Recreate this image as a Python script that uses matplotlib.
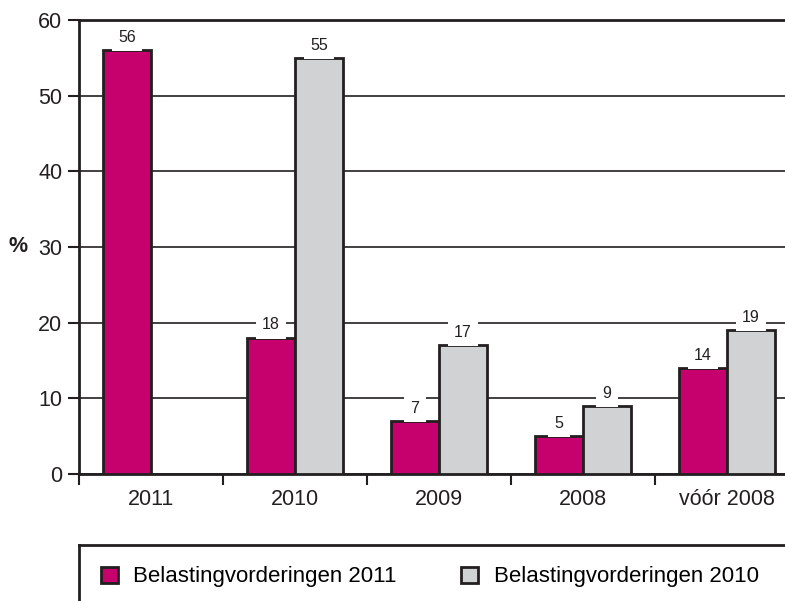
import matplotlib
matplotlib.use("Agg")
import matplotlib.pyplot as plt
import numpy as np

categories = ["2011", "2010", "2009", "2008", "vóór 2008"]
vals_2011 = [56, 18, 7, 5, 14]
vals_2010 = [np.nan, 55, 17, 9, 19]
series_names = ["Belastingvorderingen 2011", "Belastingvorderingen 2010"]

magenta = "#C6006C"
grey = "#D1D2D4"
ink = "#231F20"

plt.rcParams['font.family'] = ['Liberation Sans', 'DejaVu Sans']

fig = plt.figure(figsize=(7.85, 6.01), dpi=100)
W, H = 785, 601
ax = fig.add_axes([79 / W, (H - 474) / H, 720 / W, 454 / H])

x = np.arange(len(categories))
w = 1 / 3
b1 = ax.bar(x - w / 2, vals_2011, w, color=magenta, edgecolor=ink, linewidth=2, zorder=3, label=series_names[0])
b2 = ax.bar(x + w / 2, vals_2010, w, color=grey, edgecolor=ink, linewidth=2, zorder=3, label=series_names[1])

for bars, vals in ((b1, vals_2011), (b2, vals_2010)):
    for r, v in zip(bars, vals):
        if np.isnan(v):
            continue
        ax.annotate(f"{v:g}", (r.get_x() + r.get_width() / 2, v), xytext=(0, 6),
                    textcoords="offset points", ha="center", va="baseline",
                    fontsize=11.5, color=ink, zorder=4,
                    bbox=dict(boxstyle="square,pad=0.4", fc="white", ec="none"))

ax.set_xlim(-0.5, len(categories) - 0.5)
ax.set_ylim(0, 60)
ax.set_yticks(range(0, 61, 10))
ax.yaxis.grid(True, color=ink, linewidth=1.2)
ax.set_axisbelow(True)

ax.set_xticks(x)
ax.set_xticklabels(categories)
ax.set_xticks(np.arange(-0.5, len(categories), 1), minor=True)
ax.tick_params(axis="x", which="major", length=0, pad=11, labelsize=15.5, colors=ink)
ax.tick_params(axis="x", which="minor", length=8, width=1.5, color=ink, direction="out")
ax.tick_params(axis="y", length=8, width=1.5, pad=4, labelsize=15.5, colors=ink)

for s in ["left", "bottom", "top"]:
    ax.spines[s].set_color(ink)
    ax.spines[s].set_linewidth(2)
ax.spines["right"].set_visible(False)

ax.set_ylabel("%", rotation=0, fontweight="bold", fontsize=15.5, color=ink, va="center", ha="center")
ax.yaxis.set_label_coords(-0.085, 0.5)

# legend box with only top and left border
lax = fig.add_axes([79 / W, 0, 1, (H - 545) / H])
lax.set_xticks([])
lax.set_yticks([])
lax.patch.set_alpha(0)
for s in ["right", "bottom"]:
    lax.spines[s].set_visible(False)
for s in ["left", "top"]:
    lax.spines[s].set_color(ink)
    lax.spines[s].set_linewidth(2)
lax.legend(handles=[b1, b2], loc="center left", bbox_to_anchor=(0.017, 0.43), ncol=2,
           frameon=False, fontsize=16, handlelength=0.75, handleheight=0.75,
           handletextpad=0.7, columnspacing=2.9, borderaxespad=0)

fig.savefig("out.png", dpi=100)
